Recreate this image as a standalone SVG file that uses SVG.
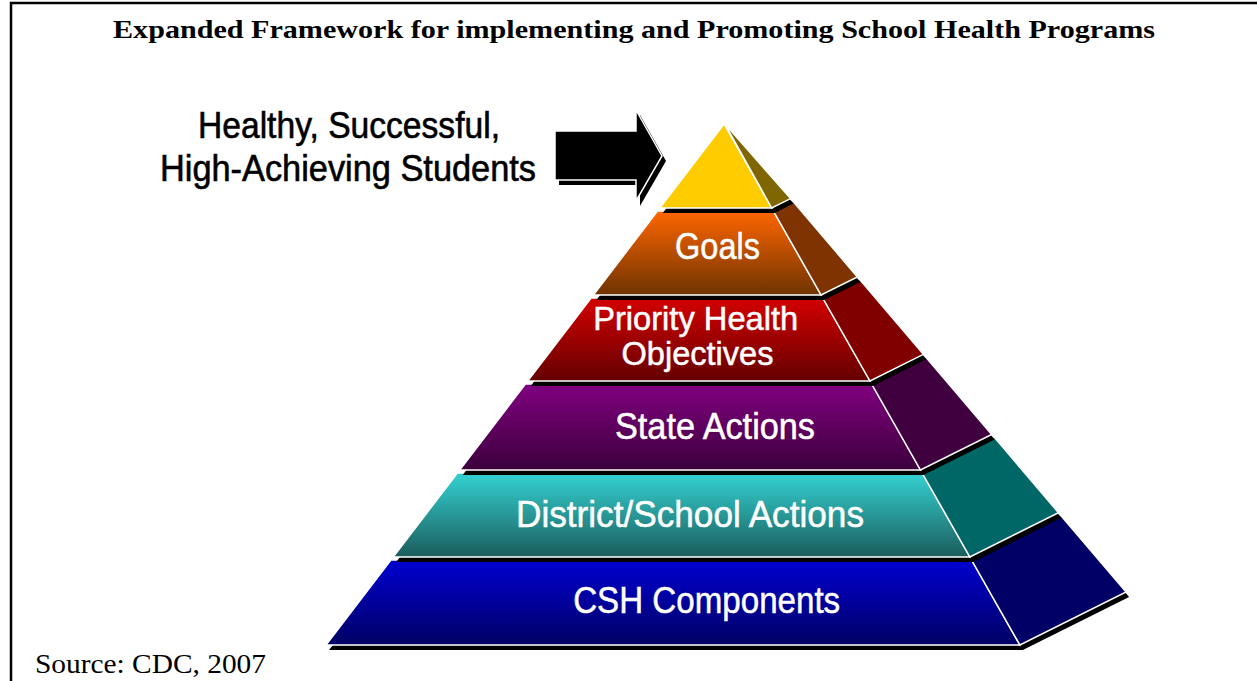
<svg xmlns="http://www.w3.org/2000/svg" width="1257" height="681" viewBox="0 0 1257 681">
<defs>
  <linearGradient id="gGoals" x1="0" y1="0" x2="0" y2="1"><stop offset="0" stop-color="#FF6600"/><stop offset="1" stop-color="#6E3300"/></linearGradient>
  <linearGradient id="gPrio" x1="0" y1="0" x2="0" y2="1"><stop offset="0" stop-color="#D40000"/><stop offset="1" stop-color="#640000"/></linearGradient>
  <linearGradient id="gState" x1="0" y1="0" x2="0" y2="1"><stop offset="0" stop-color="#800080"/><stop offset="1" stop-color="#3C003C"/></linearGradient>
  <linearGradient id="gDist" x1="0" y1="0" x2="0" y2="1"><stop offset="0.05" stop-color="#33CCCC"/><stop offset="1" stop-color="#1B5C5C"/></linearGradient>
  <linearGradient id="gCsh" x1="0" y1="0" x2="0" y2="1"><stop offset="0.05" stop-color="#0000CC"/><stop offset="1" stop-color="#000064"/></linearGradient>
</defs>
<style>
  .face{stroke:#fff;stroke-width:1.5;stroke-linejoin:miter}
  .shadow{fill:#000}
  .lbl{font-family:"Liberation Sans",Arial,sans-serif;font-size:36px;fill:#fff;stroke:#fff;stroke-width:0.5;text-anchor:middle}
  .lbl2{font-size:33px}
  .side-text{font-family:"Liberation Sans",Arial,sans-serif;font-size:36px;fill:#000;stroke:#000;stroke-width:0.6;text-anchor:middle}
  .title{font-family:"Liberation Serif","Times New Roman",serif;font-size:26px;font-weight:bold;fill:#000;text-anchor:middle}
  .src{font-family:"Liberation Serif","Times New Roman",serif;font-size:28px;fill:#000}
</style>
<rect width="1257" height="681" fill="#fff"/>
<path d="M11 681 V3 H1257" fill="none" stroke="#000" stroke-width="2.5"/>
<text class="title" x="634" y="38" textLength="1042" lengthAdjust="spacingAndGlyphs">Expanded Framework for implementing and Promoting School Health Programs</text>

<g id="layer-csh">
  <polygon class="shadow" points="393.9,565 974.6,565 1063.8,520.4 1129.1,596.9 1022.9,650 329,650"/>
  <polygon class="face" fill="url(#gCsh)" points="390.9,560 971.6,560 1019.9,645 326,645"/>
  <polygon class="face" fill="#000066" points="971.6,560 1060.8,515.4 1126.1,591.9 1019.9,645"/>
  <text class="lbl" x="706.7" y="613" textLength="267" lengthAdjust="spacingAndGlyphs">CSH Components</text>
</g>

<g id="layer-district">
  <polygon class="shadow" points="460.4,478 925.2,478 997.1,442.1 1061.5,517.7 972.9,562 396.2,562"/>
  <polygon class="face" fill="url(#gDist)" points="457.4,473 922.2,473 969.9,557 393.2,557"/>
  <polygon class="face" fill="#006666" points="922.2,473 994.1,437.1 1058.5,512.7 969.9,557"/>
  <text class="lbl" x="690" y="527" textLength="348" lengthAdjust="spacingAndGlyphs">District/School Actions</text>
</g>

<g id="layer-state">
  <polygon class="shadow" points="528.4,389 874.7,389 928.7,362 994.7,439.4 923.5,475 462.7,475"/>
  <polygon class="face" fill="url(#gState)" points="525.4,384 871.7,384 920.5,470 459.7,470"/>
  <polygon class="face" fill="#400040" points="871.7,384 925.7,357 991.7,434.4 920.5,470"/>
  <text class="lbl" x="715" y="438.5" textLength="200" lengthAdjust="spacingAndGlyphs">State Actions</text>
</g>

<g id="layer-priority">
  <polygon class="shadow" points="594.1,303 825.8,303 862.7,284.6 926.4,359.3 873,386 530.7,386"/>
  <polygon class="face" fill="url(#gPrio)" points="591.1,298 822.8,298 870,381 527.7,381"/>
  <polygon class="face" fill="#800000" points="822.8,298 859.7,279.6 923.4,354.3 870,381"/>
  <text class="lbl lbl2" x="695.7" y="330" textLength="205" lengthAdjust="spacingAndGlyphs">Priority Health</text>
  <text class="lbl lbl2" x="697.5" y="364.5" textLength="152" lengthAdjust="spacingAndGlyphs">Objectives</text>
</g>

<g id="layer-goals">
  <polygon class="shadow" points="660.5,216 776.4,216 795.9,206.3 860.4,281.9 824.1,300 596.4,300"/>
  <polygon class="face" fill="url(#gGoals)" points="657.5,211 773.4,211 821.1,295 593.4,295"/>
  <polygon class="face" fill="#7F3300" points="773.4,211 792.9,201.3 857.4,276.9 821.1,295"/>
  <text class="lbl" x="717.5" y="258.5" textLength="85" lengthAdjust="spacingAndGlyphs">Goals</text>
</g>

<g id="layer-top">
  <polygon class="shadow" points="727,129 793.6,203.6 774.7,213 662.8,213"/>
  <polygon class="face" fill="#FFCC00" points="724,124 771.7,208 659.8,208"/>
  <polygon class="face" fill="#806600" points="725,124 790.6,198.6 771.7,208"/>
</g>

<g id="label-students">
  <text class="side-text" x="349" y="137.5" textLength="302" lengthAdjust="spacingAndGlyphs">Healthy, Successful,</text>
  <text class="side-text" x="348" y="180.5" textLength="376" lengthAdjust="spacingAndGlyphs">High-Achieving Students</text>
</g>

<g id="connectors">
  <polygon class="shadow" points="559,136 640,136 640,115 666,161 640,206 640,185 559,185"/>
  <polygon fill="#000" stroke="#fff" stroke-width="1.5" points="555,131 636,131 636,110 662,156 636,201 636,180 555,180"/>
</g>

<text class="src" x="35" y="672.5" textLength="231" lengthAdjust="spacingAndGlyphs">Source: CDC, 2007</text>
</svg>
